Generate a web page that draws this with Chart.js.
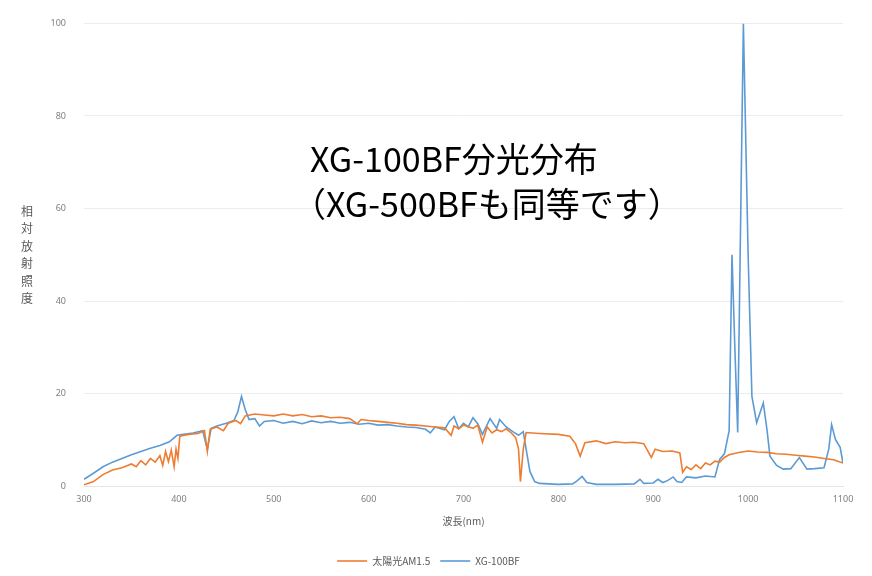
<!DOCTYPE html>
<html>
<head>
<meta charset="utf-8">
<script src="https://cdn.jsdelivr.net/npm/chart.js@4"></script>
<style>
  html, body { margin: 0; padding: 0; background: #fff; }
  #wrap { position: relative; width: 872px; height: 576px; }
  #note {
    position: absolute; left: 310px; top: 135px;
    font-family: "Noto Sans CJK JP", "Noto Sans", sans-serif;
    font-size: 34px; line-height: 45px; color: #000; white-space: nowrap;
  }
  #note .l2 { margin-left: -18px; }
</style>
</head>
<body>
<div id="wrap">
  <canvas id="specChart" width="872" height="576"></canvas>
  <div id="note"><div>XG-100BF分光分布</div><div class="l2">（XG-500BFも同等です）</div></div>
</div>
<script>
// 太陽光AM1.5 (orange)
const amNm = [300, 310, 320, 330, 340, 350, 355, 360, 365, 370, 375, 380, 383, 386, 389, 392, 395, 397, 399, 401,
  410, 420, 427, 430, 433, 440, 447, 452, 460, 465, 470, 480, 490, 500, 510, 520, 530, 540, 550, 560,
  570, 580, 588, 592, 600, 610, 620, 630, 640, 650, 660, 670, 680, 687, 690, 695, 700, 710, 715, 720,
  725, 730, 735, 740, 745, 750, 755, 758, 760, 763, 766, 780, 800, 812, 818, 823, 828, 840, 850, 860,
  870, 880, 890, 898, 902, 910, 920, 928, 931, 935, 940, 945, 950, 955, 960, 965, 970, 975, 980, 990,
  1000, 1010, 1020, 1030, 1040, 1050, 1060, 1070, 1080, 1090, 1100];
const amVal = [0.3, 1, 2.5, 3.5, 4, 4.8, 4.2, 5.5, 4.6, 6, 5.2, 6.6, 4.5, 7.5, 5.3, 7.8, 4.2, 8, 6, 10.8,
  11.2, 11.4, 12, 7.5, 12.3, 12.8, 12, 13.6, 14.2, 13.5, 15.2, 15.6, 15.4, 15.2, 15.6, 15.2, 15.5, 15, 15.2, 14.8,
  14.9, 14.6, 13.5, 14.4, 14.2, 14, 13.8, 13.6, 13.3, 13.2, 13, 12.8, 12.6, 11, 13, 12.4, 13.2, 12.5, 13.2, 9.5,
  12.8, 11.5, 12.2, 11.8, 12.4, 11.6, 10.5, 8, 1, 8, 11.6, 11.4, 11.2, 10.8, 9.2, 6.5, 9.4, 9.8, 9.2, 9.6,
  9.4, 9.5, 9.2, 6.2, 8, 7.5, 7.6, 7.2, 3, 4.2, 3.6, 4.6, 3.8, 5, 4.6, 5.4, 5.2, 6.2, 6.8, 7.3,
  7.6, 7.4, 7.3, 7, 6.9, 6.7, 6.5, 6.3, 6, 5.7, 5];

// XG-100BF (blue)
const xgNm = [300, 310, 320, 330, 340, 350, 360, 370, 380, 390, 398, 405, 415, 425, 430, 434, 440, 450, 458, 462,
  466, 470, 474, 480, 485, 490, 500, 510, 520, 530, 540, 550, 560, 570, 580, 590, 600, 610, 620, 630,
  640, 650, 660, 665, 670, 680, 685, 690, 695, 700, 705, 710, 715, 720, 728, 735, 738, 745, 752, 758,
  763, 766, 770, 775, 780, 800, 815, 820, 825, 830, 840, 860, 880, 886, 890, 900, 905, 910, 915, 921,
  925, 930, 935, 945, 955, 965, 970, 975, 980, 983, 986, 989, 995, 1000, 1004, 1009, 1016, 1020, 1023, 1030,
  1037, 1045, 1054, 1062, 1070, 1080, 1085, 1088, 1092, 1097, 1100];
const xgVal = [1.5, 2.8, 4.2, 5.2, 6, 6.8, 7.5, 8.2, 8.8, 9.6, 11, 11.2, 11.5, 12, 8, 12.5, 13, 13.6, 14.2, 16,
  19.4, 16.5, 14.4, 14.6, 13, 14, 14.2, 13.6, 14, 13.5, 14.1, 13.7, 14, 13.6, 13.8, 13.4, 13.6, 13.2, 13.3, 13,
  12.8, 12.7, 12.3, 11.5, 12.8, 12.2, 14, 15, 12.4, 13.6, 12.8, 14.8, 13.5, 11.2, 14.6, 12.5, 14.4, 12.8, 11.8, 11,
  11.8, 8, 3.2, 1, 0.6, 0.4, 0.5, 1.2, 2.1, 0.8, 0.4, 0.4, 0.5, 1.5, 0.6, 0.7, 1.5, 0.8, 1.2, 2,
  1, 0.8, 2, 1.8, 2.2, 2, 5.8, 7, 12, 50, 30, 11.6, 100, 50, 19.4, 13.7, 18, 12, 6.5, 4.5,
  3.7, 3.8, 6.2, 3.7, 3.8, 4, 8, 13.3, 10.1, 8.4, 5];

const seriesNames = ['太陽光AM1.5', 'XG-100BF'];
const xTicks = [300, 400, 500, 600, 700, 800, 900, 1000, 1100];
const yTicks = [0, 20, 40, 60, 80, 100];
const yTitle = '相対放射照度';
const xTitle = '波長(nm)';

const toPoints = (xs, ys) => xs.map((x, i) => ({ x: x, y: ys[i] }));

// stacked vertical y-axis title
const verticalTitle = {
  id: 'verticalTitle',
  afterDraw: (chart) => {
    const { ctx, chartArea } = chart;
    const chars = Array.from(yTitle);
    const step = 17.5;
    const mid = (chartArea.top + chartArea.bottom) / 2;
    const start = mid - (chars.length - 1) * step / 2;
    ctx.save();
    ctx.fillStyle = '#595959';
    ctx.font = '12px "Noto Sans CJK JP"';
    ctx.textAlign = 'center';
    ctx.textBaseline = 'middle';
    chars.forEach((c, i) => ctx.fillText(c, 27, start + i * step));
    ctx.restore();
  }
};

const tickFont = { family: '"Noto Sans", sans-serif', size: 9 };

new Chart(document.getElementById('specChart'), {
  type: 'line',
  data: {
    datasets: [
      {
        label: seriesNames[0],
        data: toPoints(amNm, amVal),
        borderColor: '#ED7D31',
        backgroundColor: '#ED7D31',
        borderWidth: 1.6,
        pointRadius: 0,
        tension: 0,
        fill: false
      },
      {
        label: seriesNames[1],
        data: toPoints(xgNm, xgVal),
        borderColor: '#5B9BD5',
        backgroundColor: '#5B9BD5',
        borderWidth: 1.6,
        pointRadius: 0,
        tension: 0,
        fill: false
      }
    ]
  },
  options: {
    responsive: false,
    animation: false,
    layout: { padding: { left: 14, right: 29, top: 20, bottom: 0 } },
    plugins: {
      legend: {
        position: 'bottom',
        labels: {
          usePointStyle: true,
          pointStyle: 'line',
          pointStyleWidth: 30,
          color: '#595959',
          font: { family: '"Noto Sans CJK JP", sans-serif', size: 10 }
        }
      },
      tooltip: { enabled: false }
    },
    scales: {
      x: {
        type: 'linear',
        min: 300,
        max: 1100,
        afterBuildTicks: (scale) => { scale.ticks = xTicks.map(v => ({ value: v })); },
        grid: { display: false, drawTicks: false },
        border: { display: true, color: '#e6e6e6' },
        ticks: { color: '#7f7f7f', font: tickFont, padding: 8, maxRotation: 0, callback: (v) => String(v) },
        title: {
          display: true,
          text: xTitle,
          color: '#595959',
          font: { family: '"Noto Sans CJK JP", sans-serif', size: 10 },
          padding: { top: 2, bottom: 19 }
        }
      },
      y: {
        min: 0,
        max: 100,
        afterBuildTicks: (scale) => { scale.ticks = yTicks.map(v => ({ value: v })); },
        afterFit: (scale) => { scale.width = 70; },
        grid: { color: '#ececec', drawTicks: false },
        border: { display: false },
        ticks: { color: '#7f7f7f', font: tickFont, padding: 18 }
      }
    }
  },
  plugins: [verticalTitle]
});
</script>
</body>
</html>
